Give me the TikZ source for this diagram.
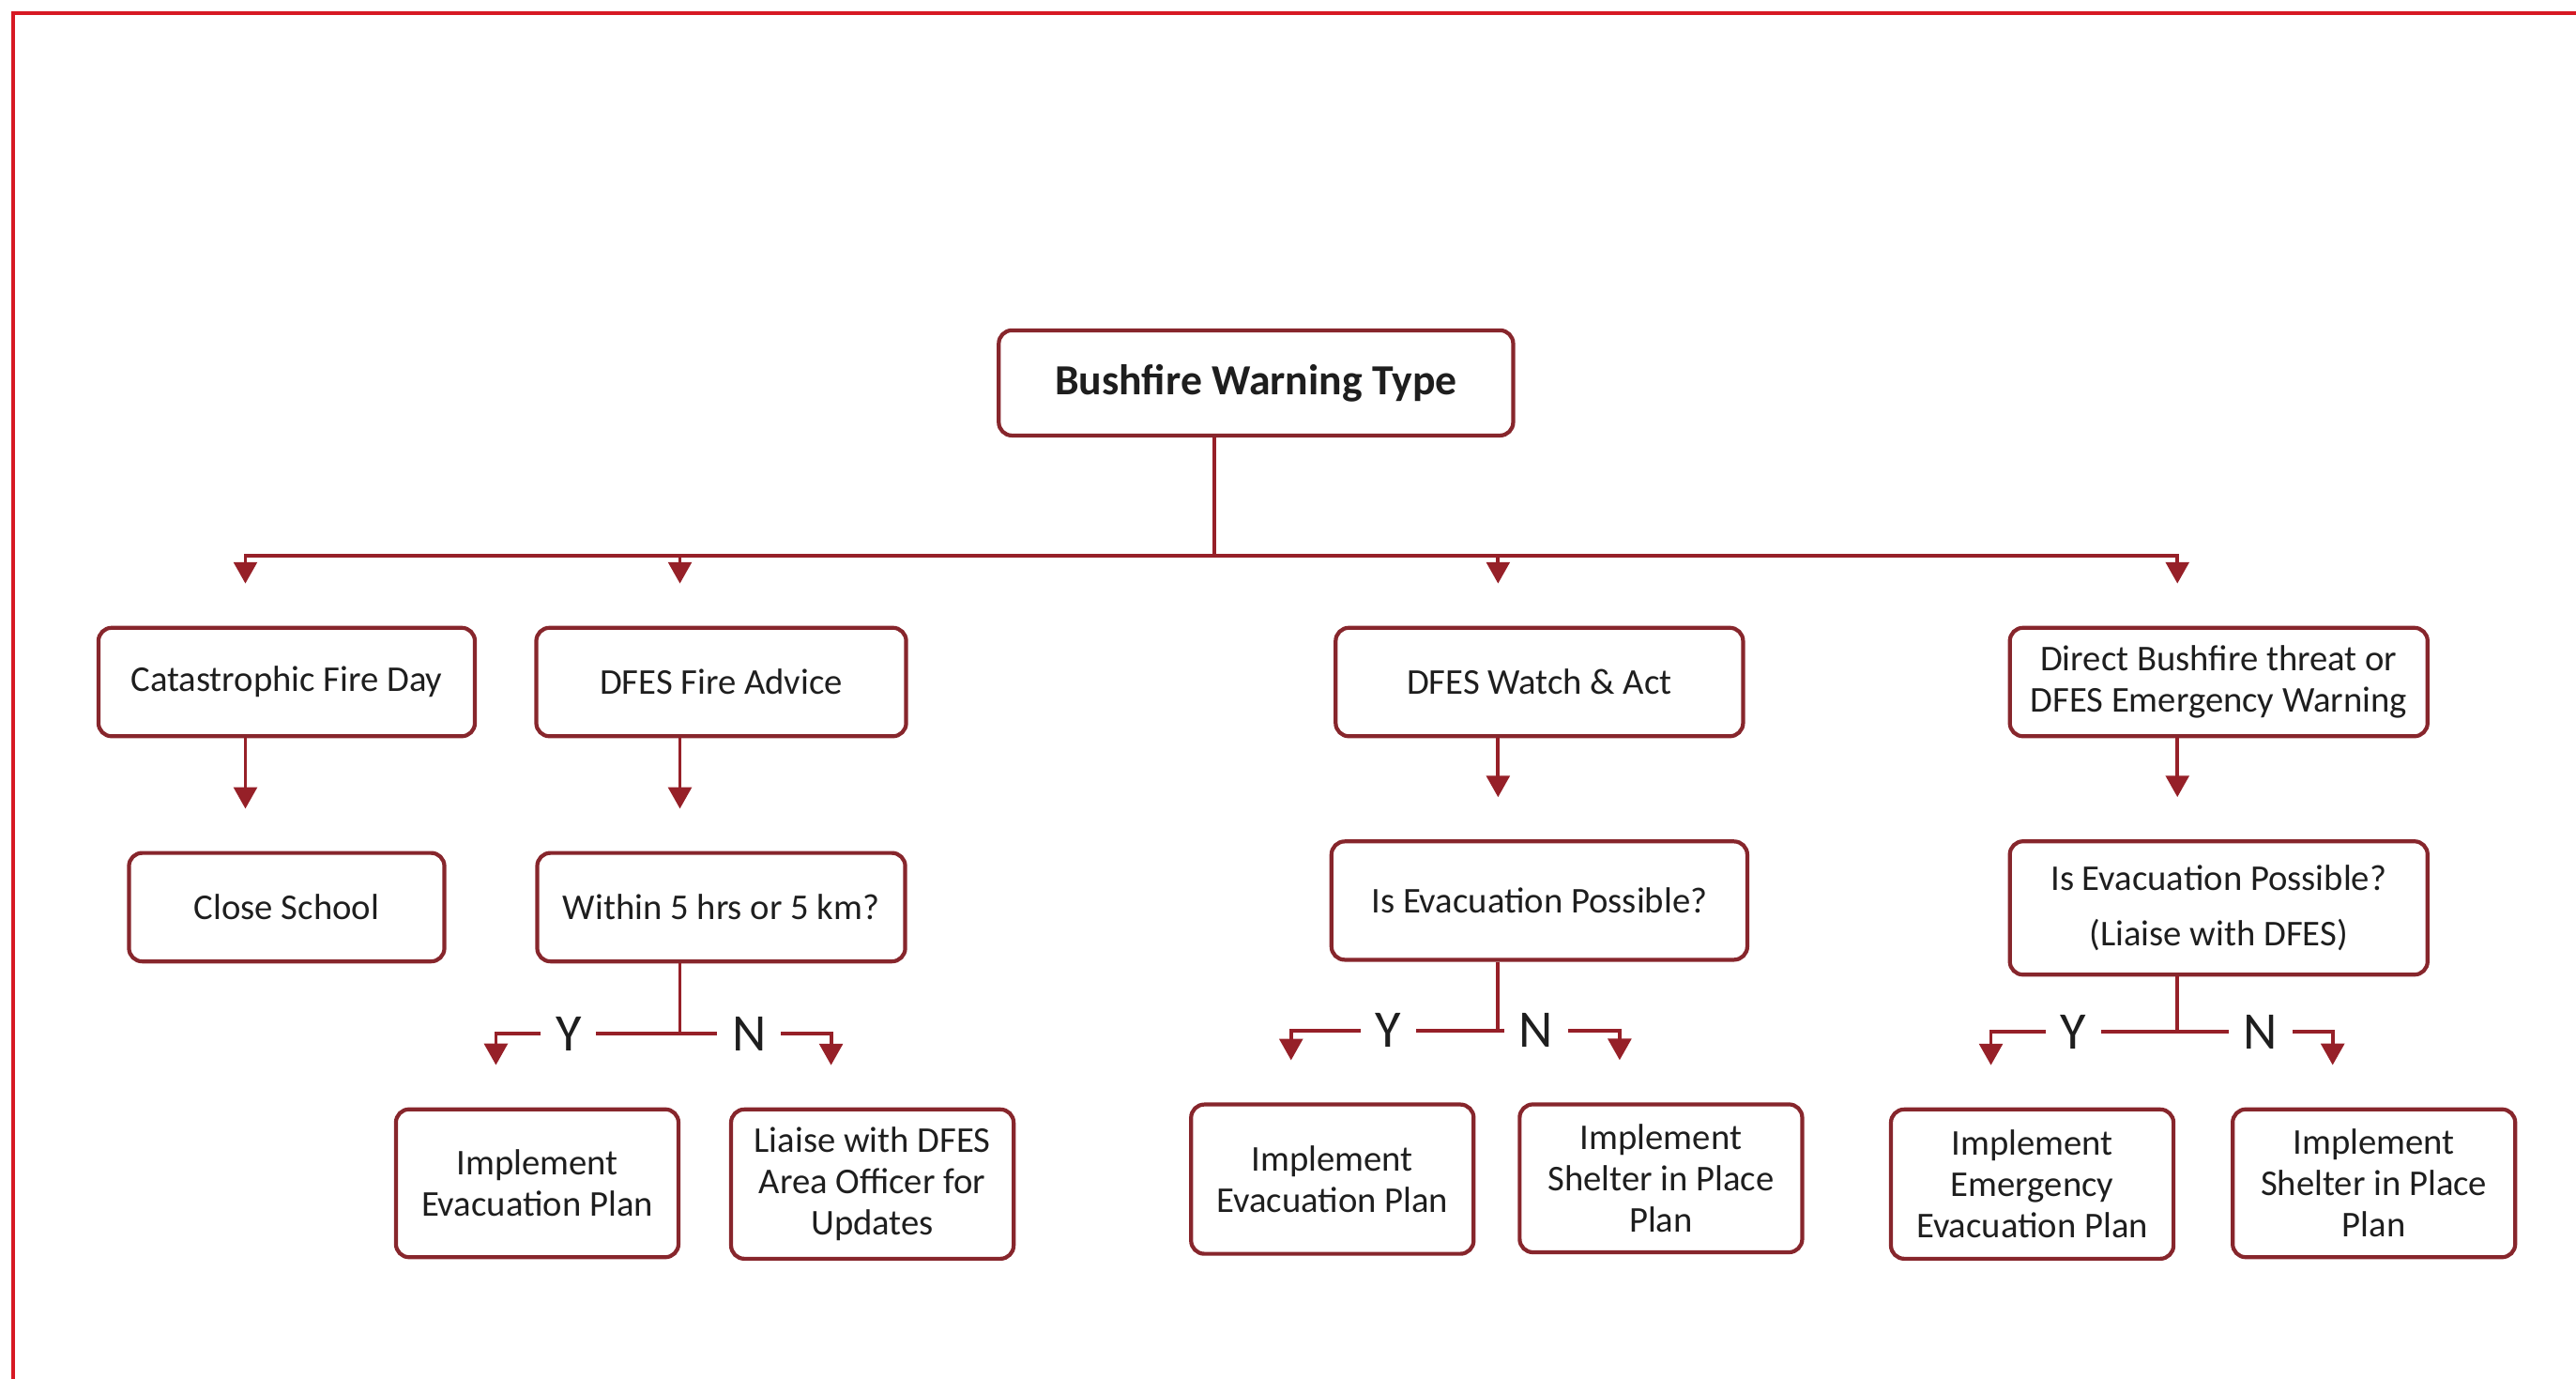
\documentclass[tikz,border=0pt]{standalone}
\usepackage{fontspec}
\setmainfont{Carlito}
\usepackage{tikz}
\usetikzlibrary{arrows.meta}

\definecolor{boxred}{RGB}{135,38,44}
\definecolor{linkred}{RGB}{150,32,40}
\definecolor{framered}{RGB}{215,25,35}
\definecolor{textgray}{RGB}{30,30,30}

\begin{document}
\begin{tikzpicture}[x=0.0175cm, y=-0.0175cm, line width=1pt,
    box/.style={draw=boxred, line width=1.2pt, rounded corners=4pt, align=center,
      inner sep=0pt, text=textgray, font=\fontsize{11}{12.5}\selectfont},
    link/.style={draw=linkred, line width=1.1pt},
    arrow/.style={link, -{Triangle[width=7pt, length=6.5pt]}, shorten >=0.45cm},
    yn/.style={text=textgray, inner sep=4pt, font=\fontsize{16}{16}\selectfont}]

    \useasboundingbox (0,0) rectangle (1568,839);

    % draw page frame
    \draw[framered, line width=1pt] (8,839) -- (8,8) -- (1568,8);

    % draw top box
    \node[box, minimum width=5.48cm, minimum height=1.12cm,
      font=\fontsize{13}{15}\selectfont\bfseries] (type) at (764.5,233) {Bushfire Warning Type};

    % draw warning types
    \node[box, minimum width=4.01cm, minimum height=1.155cm] (cat) at (174.5,415) {Catastrophic Fire Day};
    \node[box, minimum width=3.94cm, minimum height=1.155cm] (advice) at (439,415) {DFES Fire Advice};
    \node[box, minimum width=4.34cm, minimum height=1.155cm] (watch) at (937,415) {DFES Watch \& Act};
    \node[box, minimum width=4.45cm, minimum height=1.155cm] (direct) at (1350.5,415) {Direct Bushfire threat or\\DFES Emergency Warning};

    % draw second row
    \node[box, minimum width=3.36cm, minimum height=1.155cm] (close) at (174.5,552) {Close School};
    \node[box, minimum width=3.92cm, minimum height=1.155cm] (within) at (439,552) {Within 5 hrs or 5 km?};
    \node[box, minimum width=4.43cm, minimum height=1.26cm] (evac) at (937,548) {Is Evacuation Possible?};
    \node[box, minimum width=4.45cm, minimum height=1.42cm,
      font=\fontsize{11}{16.5}\selectfont] (evacdfes) at (1350.5,552.5) {Is Evacuation Possible?\\(Liaise with DFES)};

    % draw outcome boxes
    \node[box, minimum width=3.01cm, minimum height=1.575cm] (planA) at (327,720) {Implement\\Evacuation Plan};
    \node[box, minimum width=3.01cm, minimum height=1.59cm] (liaise) at (531,720.5) {Liaise with DFES\\Area Officer for\\Updates};
    \node[box, minimum width=3.01cm, minimum height=1.59cm] (planB) at (811,717.5) {Implement\\Evacuation Plan};
    \node[box, minimum width=3.01cm, minimum height=1.575cm] (shelterB) at (1011,717) {Implement\\Shelter in Place\\Plan};
    \node[box, minimum width=3.01cm, minimum height=1.59cm] (planC) at (1237,720.5) {Implement\\Emergency\\Evacuation Plan};
    \node[box, minimum width=3.01cm, minimum height=1.575cm] (shelterC) at (1445,720) {Implement\\Shelter in Place\\Plan};

    % draw Y/N labels
    \node[yn] (yesA) at (346,629) {Y};
    \node[yn] (noA) at (456,629) {N};
    \node[yn] (yesB) at (845,627) {Y};
    \node[yn] (noB) at (935,627) {N};
    \node[yn] (yesC) at (1262,628) {Y};
    \node[yn] (noC) at (1376,628) {N};

    % draw bus from top box
    \coordinate (bus) at ([xshift=-0.44cm, yshift=-1.26cm]type.south);
    \draw[link] ([xshift=-0.44cm]type.south) -- (bus);
    \foreach \n in {cat, advice, watch, direct}
      \draw[arrow] (bus) -| ([xshift=-0.44cm]\n.north);

    % draw arrows to second row
    \draw[arrow] ([xshift=-0.44cm]cat.south) -- ([xshift=-0.44cm]close.north);
    \draw[arrow] ([xshift=-0.44cm]advice.south) -- ([xshift=-0.44cm]within.north);
    \draw[arrow] ([xshift=-0.44cm]watch.south) -- ([xshift=-0.44cm]evac.north);
    \draw[arrow] ([xshift=-0.44cm]direct.south) -- ([xshift=-0.44cm]evacdfes.north);

    % draw Y/N branches
    \draw[link] ([xshift=-0.44cm]within.south) |- (noA.west);
    \draw[link] (yesA.east) -- (noA.west);
    \draw[arrow] (yesA.west) -| ([xshift=-0.44cm]planA.north);
    \draw[arrow] (noA.east) -| ([xshift=-0.44cm]liaise.north);

    \draw[link] ([xshift=-0.44cm]evac.south) |- (noB.west);
    \draw[link] (yesB.east) -- (noB.west);
    \draw[arrow] (yesB.west) -| ([xshift=-0.44cm]planB.north);
    \draw[arrow] (noB.east) -| ([xshift=-0.44cm]shelterB.north);

    \draw[link] ([xshift=-0.44cm]evacdfes.south) |- (noC.west);
    \draw[link] (yesC.east) -- (noC.west);
    \draw[arrow] (yesC.west) -| ([xshift=-0.44cm]planC.north);
    \draw[arrow] (noC.east) -| ([xshift=-0.44cm]shelterC.north);

\end{tikzpicture}
\end{document}
